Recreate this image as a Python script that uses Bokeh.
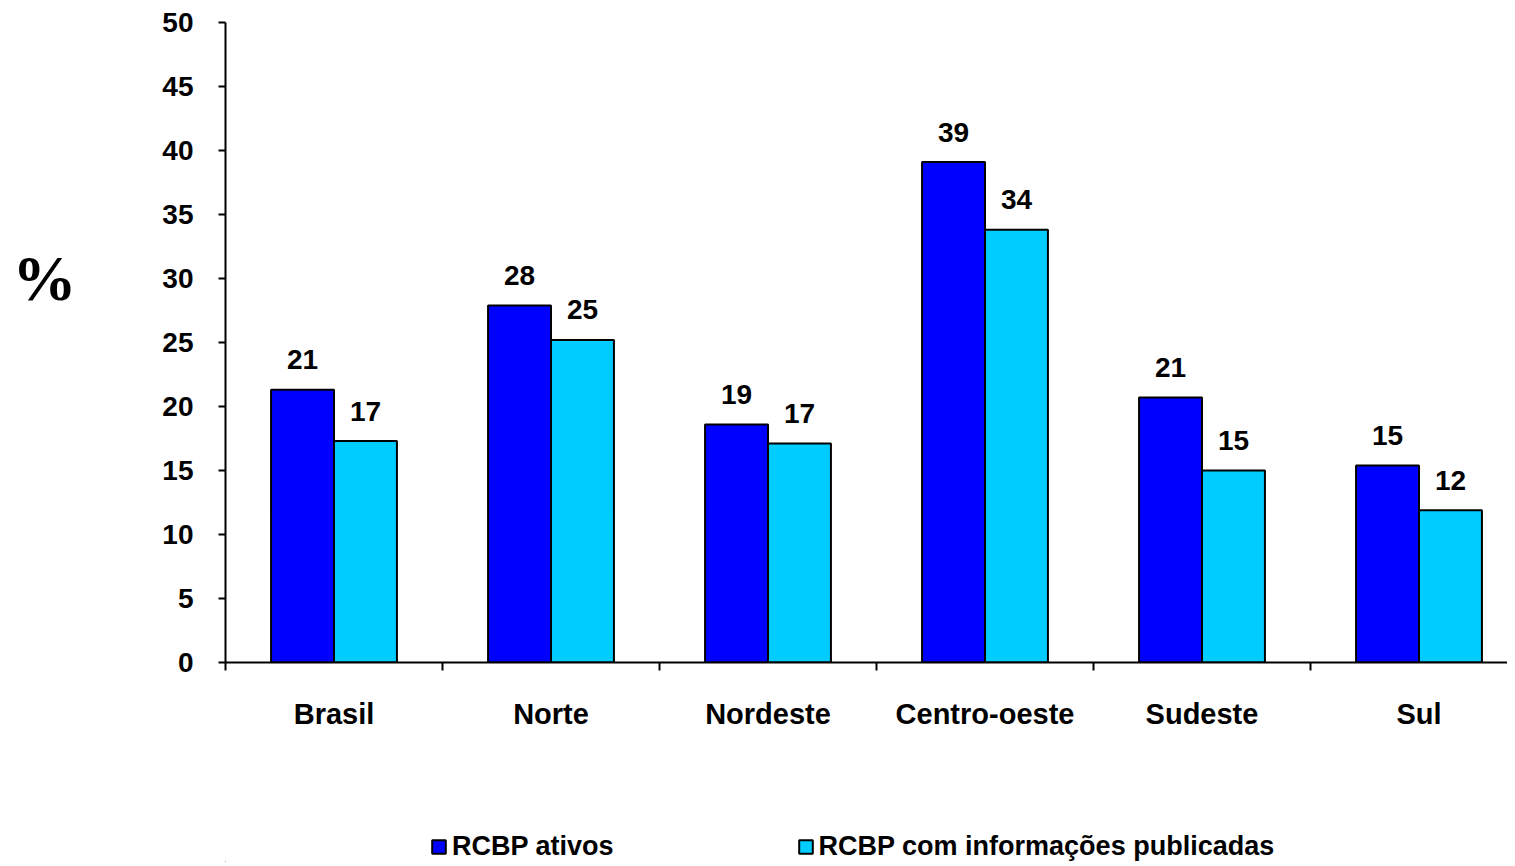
from bokeh.plotting import figure
from bokeh.models import Range1d, FixedTicker, Legend, LegendItem, LinearAxis
from bokeh.layouts import column
from bokeh.embed import file_html
from bokeh.resources import INLINE
from bokeh.core.properties import value

regions = ["Brasil", "Norte", "Nordeste", "Centro-oeste", "Sudeste", "Sul"]
ativos = [21.3, 27.9, 18.6, 39.1, 20.7, 15.4]
publicadas = [17.3, 25.2, 17.1, 33.8, 15.0, 11.9]
ativos_labels = ["21", "28", "19", "39", "21", "15"]
publicadas_labels = ["17", "25", "17", "34", "15", "12"]
series_names = ["RCBP ativos", "RCBP com informações publicadas"]
y_ticks = list(range(0, 51, 5))
y_label = "%"
y_label_at = 30

FONT = "Liberation Sans"
DARK = "#0000FF"
LIGHT = "#00CCFF"
BAR_W = 0.29
W = 1507
LEFT = 225

n = len(regions)
centers = [i + 0.5 for i in range(n)]
x_dark = [c - BAR_W / 2 for c in centers]
x_light = [c + BAR_W / 2 for c in centers]

p = figure(width=W, height=750, output_backend="svg", toolbar_location=None,
           x_range=Range1d(0, (W - LEFT) / 217), y_range=Range1d(0, 50),
           min_border_left=LEFT, min_border_right=0, min_border_top=22,
           min_border_bottom=88)
p.outline_line_color = None
p.xgrid.visible = False
p.ygrid.visible = False
p.background_fill_color = "white"
p.border_fill_color = "white"

r1 = p.vbar(x=x_dark, top=ativos, width=BAR_W, bottom=0, fill_color=DARK,
            line_color="black", line_width=2)
r2 = p.vbar(x=x_light, top=publicadas, width=BAR_W, bottom=0, fill_color=LIGHT,
            line_color="black", line_width=2)

for xs, ys, labs in [(x_dark, ativos, ativos_labels), (x_light, publicadas, publicadas_labels)]:
    p.text(x=xs, y=ys, text=labs, text_align="center", text_baseline="alphabetic",
           y_offset=-30, text_font=value(FONT), text_font_style="bold",
           text_font_size="28px", text_color="black")

# y axis
ya = p.yaxis[0]
ya.ticker = FixedTicker(ticks=y_ticks)
ya.axis_line_width = 2
ya.axis_line_color = "black"
ya.major_tick_line_width = 2
ya.major_tick_out = 7
ya.major_tick_in = 0
ya.minor_tick_line_color = None
ya.major_label_standoff = 25
ya.major_label_text_font = FONT
ya.major_label_text_font_style = "bold"
ya.major_label_text_font_size = "28px"
ya.major_label_text_color = "black"

# "%" as an outer left axis with a single labelled tick
pct = LinearAxis(ticker=FixedTicker(ticks=[y_label_at]),
                 major_label_overrides={y_label_at: y_label},
                 axis_line_color=None, major_tick_line_color=None,
                 minor_tick_line_color=None, major_tick_out=0, major_tick_in=0,
                 major_label_standoff=83,
                 major_label_text_font="Liberation Serif",
                 major_label_text_font_style="bold",
                 major_label_text_font_size="64px",
                 major_label_text_color="black")
p.add_layout(pct, "left")

# x axis
xa = p.xaxis[0]
xa.ticker = FixedTicker(ticks=centers, minor_ticks=list(range(n + 1)))
xa.major_label_overrides = {c: r for c, r in zip(centers, regions)}
xa.axis_line_width = 2
xa.axis_line_color = "black"
xa.major_tick_line_color = None
xa.major_tick_out = 0
xa.major_tick_in = 0
xa.minor_tick_line_width = 2
xa.minor_tick_line_color = "black"
xa.minor_tick_out = 8
xa.minor_tick_in = 0
xa.major_label_standoff = 27
xa.major_label_text_font = FONT
xa.major_label_text_font_style = "bold"
xa.major_label_text_font_size = "29px"
xa.major_label_text_color = "black"

# legend strip below the chart (its frame is aligned with the chart's frame)
lf = figure(width=W, height=112, output_backend="svg", toolbar_location=None,
            x_range=Range1d(0, 1), y_range=Range1d(0, 1), min_border=0,
            x_axis_type=None, y_axis_type=None)
lf.grid.visible = False
lf.outline_line_color = None
lf.border_fill_color = "white"
lf.background_fill_color = "white"
# swatch-only renderers, kept far outside the visible range
d1 = lf.vbar(x=[-1000], top=[-999], bottom=[-1000], width=0.1, fill_color=DARK,
             line_color="black", line_width=2)
d2 = lf.vbar(x=[-1000], top=[-999], bottom=[-1000], width=0.1, fill_color=LIGHT,
             line_color="black", line_width=2)
legend = Legend(items=[LegendItem(label=series_names[0], renderers=[d1]),
                       LegendItem(label=series_names[1], renderers=[d2])],
                location=(430 - LEFT, 0), orientation="horizontal",
                glyph_width=17, glyph_height=17, label_standoff=5, spacing=183,
                padding=0, margin=0, border_line_color=None, background_fill_alpha=0,
                label_text_font=FONT, label_text_font_style="bold",
                label_text_font_size="27px", label_text_color="black")
lf.add_layout(legend, "center")

open("out.html", "w").write(file_html(column(p, lf, spacing=0), INLINE))
